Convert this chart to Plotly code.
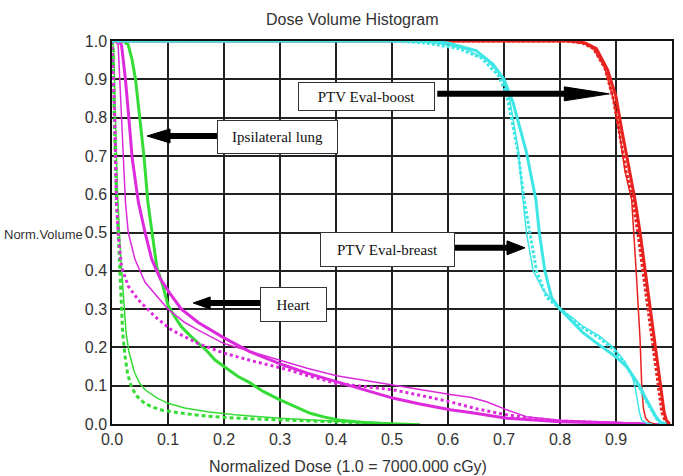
import plotly.graph_objects as go

# ---------------- data ----------------
# PTV Eval-breast (cyan)
breast_thick_x = [0.0, 0.55, 0.60, 0.65, 0.68, 0.70, 0.716, 0.74, 0.757, 0.763, 0.773, 0.785, 0.80, 0.82, 0.84, 0.862, 0.883, 0.90, 0.919, 0.932, 0.943, 0.952, 0.961, 0.971, 0.979, 0.99]
breast_thick_y = [1.0, 1.0, 0.995, 0.975, 0.94, 0.90, 0.84, 0.71, 0.585, 0.5, 0.4, 0.33, 0.30, 0.27, 0.24, 0.215, 0.193, 0.175, 0.15, 0.12, 0.097, 0.07, 0.045, 0.02, 0.005, 0.0]
breast_thin_x = [0.0, 0.52, 0.58, 0.63, 0.67, 0.695, 0.71, 0.725, 0.734, 0.74, 0.752, 0.77, 0.782, 0.80, 0.82, 0.842, 0.87, 0.895, 0.915, 0.928, 0.934, 0.938, 0.942, 0.946, 0.955, 0.965]
breast_thin_y = [1.0, 1.0, 0.995, 0.98, 0.95, 0.91, 0.85, 0.72, 0.585, 0.5, 0.4, 0.35, 0.33, 0.30, 0.28, 0.254, 0.23, 0.20, 0.165, 0.13, 0.097, 0.06, 0.03, 0.01, 0.002, 0.0]
breast_dot_x = [0.0, 0.50, 0.56, 0.62, 0.66, 0.69, 0.705, 0.725, 0.736, 0.746, 0.758, 0.776, 0.80, 0.82, 0.842, 0.87, 0.895, 0.915, 0.93, 0.942, 0.952, 0.962, 0.972, 0.98]
breast_dot_y = [1.0, 1.0, 0.995, 0.98, 0.955, 0.91, 0.86, 0.71, 0.585, 0.5, 0.4, 0.33, 0.30, 0.275, 0.25, 0.225, 0.195, 0.16, 0.125, 0.095, 0.065, 0.04, 0.015, 0.0]

# PTV Eval-boost (red)
boost_thick_x = [0.0, 0.82, 0.845, 0.865, 0.885, 0.90, 0.91, 0.925, 0.934, 0.943, 0.952, 0.961, 0.97, 0.979, 0.986, 0.99, 0.996]
boost_thick_y = [1.0, 1.0, 0.995, 0.98, 0.925, 0.855, 0.77, 0.66, 0.585, 0.5, 0.4, 0.3, 0.2, 0.1, 0.03, 0.01, 0.0]
boost_dot_x = [0.0, 0.81, 0.84, 0.86, 0.88, 0.895, 0.905, 0.918, 0.93, 0.939, 0.948, 0.957, 0.966, 0.975, 0.982, 0.988, 0.992]
boost_dot_y = [1.0, 1.0, 0.995, 0.98, 0.93, 0.85, 0.77, 0.66, 0.585, 0.5, 0.4, 0.3, 0.2, 0.1, 0.03, 0.008, 0.0]
boost_thin_x = [0.0, 0.81, 0.84, 0.86, 0.88, 0.895, 0.905, 0.916, 0.928, 0.932, 0.936, 0.943, 0.946, 0.949, 0.953, 0.96, 0.97]
boost_thin_y = [1.0, 1.0, 0.995, 0.98, 0.93, 0.85, 0.77, 0.66, 0.585, 0.5, 0.4, 0.22, 0.1, 0.04, 0.015, 0.004, 0.0]

# Ipsilateral lung (green)
lung_thick_x = [0.0, 0.02, 0.029, 0.036, 0.042, 0.05, 0.057, 0.064, 0.071, 0.08, 0.091, 0.1, 0.112, 0.124, 0.14, 0.154, 0.17, 0.184, 0.205, 0.225, 0.246, 0.27, 0.30, 0.33, 0.354, 0.38, 0.407, 0.45, 0.5]
lung_thick_y = [1.0, 1.0, 0.99, 0.95, 0.9, 0.8, 0.7, 0.58, 0.5, 0.41, 0.36, 0.31, 0.28, 0.254, 0.23, 0.211, 0.19, 0.167, 0.145, 0.124, 0.108, 0.085, 0.063, 0.043, 0.028, 0.018, 0.01, 0.004, 0.0]
lung_thin_x = [0.0, 0.003, 0.006, 0.01, 0.015, 0.02, 0.025, 0.03, 0.04, 0.05, 0.06, 0.08, 0.1, 0.13, 0.17, 0.22, 0.3, 0.4, 0.5, 0.55]
lung_thin_y = [1.0, 0.98, 0.8, 0.6, 0.45, 0.33, 0.24, 0.19, 0.135, 0.105, 0.088, 0.068, 0.054, 0.042, 0.032, 0.024, 0.015, 0.007, 0.002, 0.0]
lung_dash_x = [0.0, 0.002, 0.004, 0.008, 0.011, 0.014, 0.016, 0.019, 0.023, 0.028, 0.035, 0.045, 0.055, 0.07, 0.09, 0.12, 0.16, 0.2, 0.26, 0.33, 0.4, 0.45, 0.5]
lung_dash_y = [1.0, 0.98, 0.8, 0.58, 0.5, 0.4, 0.32, 0.24, 0.18, 0.13, 0.095, 0.072, 0.058, 0.045, 0.036, 0.029, 0.022, 0.017, 0.013, 0.01, 0.007, 0.003, 0.0]

# Heart (magenta)
heart_thick_x = [0.0, 0.011, 0.017, 0.024, 0.03, 0.036, 0.047, 0.059, 0.071, 0.086, 0.104, 0.124, 0.154, 0.2, 0.246, 0.306, 0.35, 0.401, 0.45, 0.503, 0.55, 0.604, 0.64, 0.705, 0.8, 0.9, 0.95]
heart_thick_y = [1.0, 1.0, 0.99, 0.9, 0.8, 0.695, 0.58, 0.5, 0.43, 0.38, 0.34, 0.30, 0.265, 0.225, 0.189, 0.154, 0.132, 0.11, 0.088, 0.067, 0.052, 0.037, 0.03, 0.015, 0.006, 0.003, 0.0]
heart_thin_x = [0.0, 0.005, 0.011, 0.014, 0.017, 0.02, 0.024, 0.029, 0.041, 0.059, 0.083, 0.1, 0.13, 0.154, 0.2, 0.246, 0.306, 0.35, 0.401, 0.45, 0.503, 0.55, 0.604, 0.64, 0.669, 0.705, 0.74, 0.8, 0.889, 0.95, 0.98]
heart_thin_y = [1.0, 1.0, 0.99, 0.9, 0.8, 0.695, 0.58, 0.5, 0.43, 0.37, 0.33, 0.30, 0.265, 0.245, 0.21, 0.19, 0.163, 0.145, 0.126, 0.114, 0.102, 0.09, 0.077, 0.07, 0.058, 0.037, 0.019, 0.01, 0.006, 0.003, 0.0]
heart_dot_x = [0.0, 0.003, 0.005, 0.007, 0.008, 0.011, 0.017, 0.029, 0.047, 0.077, 0.107, 0.154, 0.2, 0.255, 0.306, 0.35, 0.401, 0.45, 0.503, 0.55, 0.604, 0.65, 0.705, 0.75, 0.8, 0.9, 0.95]
heart_dot_y = [1.0, 0.9, 0.8, 0.65, 0.58, 0.5, 0.41, 0.36, 0.324, 0.28, 0.245, 0.21, 0.185, 0.163, 0.145, 0.126, 0.106, 0.098, 0.089, 0.075, 0.058, 0.04, 0.024, 0.015, 0.008, 0.002, 0.0]

tick_vals = [0.0, 0.1, 0.2, 0.3, 0.4, 0.5, 0.6, 0.7, 0.8, 0.9, 1.0]
tick_text = ["0.0", "0.1", "0.2", "0.3", "0.4", "0.5", "0.6", "0.7", "0.8", "0.9", "1.0"]

# labels: (text, box-centre x, box-centre y, width px, height px)
labels = [
    ("PTV Eval-boost", 0.454, 0.856, 137, 29),
    ("Ipsilateral lung", 0.296, 0.749, 121, 34),
    ("Heart", 0.324, 0.312, 67, 35),
    ("PTV Eval-breast", 0.492, 0.456, 135, 35),
]
# arrows: (tip x, tip y, direction, shaft length px, head length px, head half-height px)
arrows = [
    (0.888, 0.862, 1, 172, 45, 7),
    (0.0625, 0.752, -1, 70, 23, 7),
    (0.145, 0.316, -1, 67, 17, 6),
    (0.7375, 0.46, 1, 70, 18, 7),
]

CYAN = "#3fe6e6"
RED = "#e8221f"
GREEN = "#36dc36"
MAGENTA = "#dc2adc"

fig = go.Figure()


def add(x, y, color, width, dash="solid"):
    fig.add_trace(go.Scatter(x=x, y=y, mode="lines",
                             line=dict(color=color, width=width, dash=dash),
                             hoverinfo="skip", showlegend=False))


add(lung_thin_x, lung_thin_y, GREEN, 1.5)
add(lung_dash_x, lung_dash_y, GREEN, 3, "4px,3px")
add(lung_thick_x, lung_thick_y, GREEN, 3)
add(heart_thin_x, heart_thin_y, MAGENTA, 1.5)
add(heart_dot_x, heart_dot_y, MAGENTA, 3, "3px,3px")
add(heart_thick_x, heart_thick_y, MAGENTA, 3)
add(boost_thin_x, boost_thin_y, RED, 1.5)
add(boost_dot_x, boost_dot_y, RED, 3, "3px,2px")
add(boost_thick_x, boost_thick_y, RED, 3)
add(breast_thin_x, breast_thin_y, CYAN, 1.5)
add(breast_dot_x, breast_dot_y, CYAN, 3, "3px,2px")
add(breast_thick_x, breast_thick_y, CYAN, 3)

shapes = []
for tx, ty, d, shaft, hl, hh in arrows:
    shapes.append(dict(type="line", xref="x", yref="y", xsizemode="pixel", ysizemode="pixel",
                       xanchor=tx, yanchor=ty,
                       x0=-d * shaft, x1=-d * (hl - 2), y0=0, y1=0,
                       line=dict(color="black", width=6), layer="above"))
    shapes.append(dict(type="path", xref="x", yref="y", xsizemode="pixel", ysizemode="pixel",
                       xanchor=tx, yanchor=ty,
                       path=f"M0,0 L{-d * hl},{hh} L{-d * hl},{-hh} Z",
                       fillcolor="black", line=dict(color="black", width=1), layer="above"))

annotations = []
for text, cx, cy, w, h in labels:
    annotations.append(dict(x=cx, y=cy, xref="x", yref="y", text=text, showarrow=False,
                            width=w - 2, height=h - 2, bgcolor="white",
                            bordercolor="#333", borderwidth=1, borderpad=0,
                            font=dict(family="Liberation Serif, Times New Roman, serif", size=15, color="#111")))

annotations.append(dict(x=0.4286, y=1.055, xref="paper", yref="paper", text="Dose Volume Histogram",
                        xanchor="center", yanchor="middle", showarrow=False,
                        font=dict(family="Liberation Sans, Arial", size=16, color="#333")))
annotations.append(dict(x=0.421, y=-0.11, xref="paper", yref="paper",
                        text="Normalized Dose (1.0 = 7000.000 cGy)",
                        xanchor="center", yanchor="middle", showarrow=False,
                        font=dict(family="Liberation Sans, Arial", size=16, color="#333")))
annotations.append(dict(x=-0.197, y=0.495, xref="paper", yref="paper", text="Norm.Volume",
                        xanchor="left", yanchor="middle", showarrow=False,
                        font=dict(family="Liberation Sans, Arial", size=13, color="#333")))

axis_common = dict(range=[0, 1], tickvals=tick_vals, ticktext=tick_text, showgrid=True,
                   gridcolor="#222", gridwidth=1.5, showline=True, linecolor="#111", linewidth=1.5,
                   mirror=True, zeroline=False, ticks="", layer="below traces", automargin=False,
                   tickfont=dict(family="Liberation Sans, Arial", size=16, color="#333"))

fig.update_layout(
    width=683, height=476,
    margin=dict(l=112, r=11, t=41, b=52, autoexpand=False),
    paper_bgcolor="white", plot_bgcolor="white",
    xaxis=axis_common, yaxis=axis_common,
    shapes=shapes, annotations=annotations,
    showlegend=False,
)

fig.write_html("out.html")
